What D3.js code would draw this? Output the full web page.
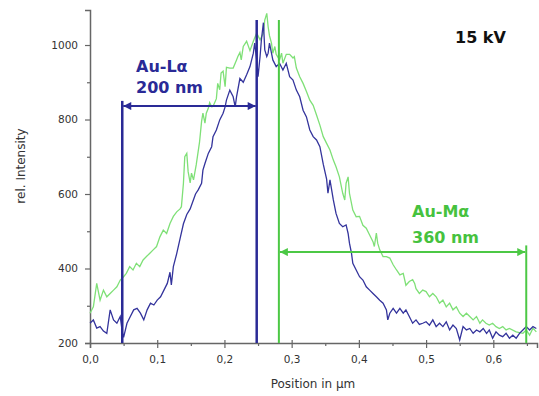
<!DOCTYPE html>
<html>
<head>
<meta charset="utf-8">
<script src="https://cdn.jsdelivr.net/npm/d3@7"></script>
<style>
  body { margin: 0; background: #fff; }
  svg { display: block; }
  .tick text { font-family: "DejaVu Sans", sans-serif; font-size: 10.5px; fill: #333; }
</style>
</head>
<body>
<div id="chart"></div>
<script>
// Au-Lα line scan (blue)
const laPos = [0.000,0.005,0.010,0.015,0.020,0.025,0.030,0.035,0.040,0.045,0.048,0.050,0.055,0.060,0.065,0.070,0.075,0.080,0.085,0.090,0.095,0.100,0.105,0.110,0.115,0.119,0.121,0.124,0.129,0.134,0.139,0.144,0.149,0.153,0.157,0.161,0.166,0.168,0.171,0.176,0.181,0.183,0.188,0.193,0.198,0.201,0.203,0.208,0.213,0.216,0.218,0.223,0.228,0.233,0.238,0.243,0.245,0.248,0.250,0.253,0.255,0.258,0.260,0.263,0.265,0.267,0.270,0.272,0.277,0.282,0.287,0.292,0.297,0.302,0.307,0.312,0.317,0.322,0.327,0.332,0.337,0.342,0.347,0.352,0.354,0.357,0.362,0.366,0.371,0.376,0.381,0.384,0.386,0.389,0.391,0.396,0.401,0.406,0.411,0.416,0.421,0.426,0.431,0.436,0.441,0.443,0.446,0.451,0.456,0.461,0.466,0.470,0.475,0.480,0.485,0.490,0.495,0.500,0.505,0.510,0.515,0.520,0.525,0.530,0.535,0.540,0.545,0.550,0.555,0.560,0.565,0.570,0.575,0.580,0.585,0.590,0.594,0.599,0.604,0.609,0.614,0.619,0.624,0.629,0.634,0.639,0.644,0.649,0.654,0.659,0.664];
const laInt = [253,262,240,244,232,226,289,262,253,271,230,215,253,271,289,293,280,262,289,307,302,315,324,342,360,390,356,405,440,480,520,545,560,580,600,611,629,664,682,709,727,754,772,799,817,834,852,879,861,834,861,910,900,920,942,978,1005,960,915,969,1014,1060,987,969,978,1005,978,960,942,951,933,951,915,906,879,861,825,807,772,754,745,727,680,640,602,638,584,548,521,512,517,494,468,441,414,396,378,369,351,342,333,324,315,307,289,262,280,293,280,293,280,289,271,253,262,250,253,257,248,262,244,253,244,257,235,248,239,208,244,235,239,226,235,230,239,226,235,213,230,221,217,226,213,221,213,226,235,244,235,244,239];

// Au-Mα line scan (green)
const maPos = [0.000,0.005,0.010,0.015,0.020,0.025,0.030,0.035,0.040,0.045,0.050,0.054,0.059,0.064,0.069,0.074,0.079,0.084,0.089,0.094,0.099,0.104,0.109,0.114,0.119,0.124,0.129,0.134,0.136,0.139,0.141,0.144,0.146,0.149,0.151,0.154,0.158,0.163,0.166,0.168,0.171,0.173,0.176,0.178,0.181,0.183,0.188,0.190,0.193,0.195,0.198,0.201,0.203,0.208,0.213,0.218,0.220,0.223,0.225,0.228,0.233,0.238,0.243,0.248,0.253,0.258,0.260,0.263,0.265,0.267,0.270,0.272,0.275,0.277,0.282,0.285,0.287,0.292,0.297,0.302,0.304,0.307,0.312,0.317,0.322,0.327,0.332,0.337,0.342,0.347,0.352,0.357,0.362,0.366,0.371,0.376,0.379,0.381,0.384,0.386,0.391,0.396,0.401,0.406,0.411,0.416,0.421,0.423,0.426,0.428,0.431,0.436,0.441,0.446,0.451,0.456,0.461,0.466,0.470,0.475,0.480,0.483,0.485,0.490,0.495,0.500,0.505,0.510,0.515,0.520,0.525,0.530,0.535,0.540,0.545,0.550,0.555,0.560,0.565,0.570,0.575,0.580,0.584,0.589,0.594,0.599,0.604,0.609,0.614,0.619,0.624,0.634,0.644,0.649,0.654,0.659,0.664];
const maInt = [280,297,360,315,342,324,333,342,351,369,378,387,405,396,414,405,423,432,441,450,459,485,503,494,521,540,552,560,566,629,700,709,660,630,656,638,678,740,795,817,790,817,830,845,834,835,856,897,880,925,930,888,940,938,938,960,969,980,960,996,1010,985,1010,1032,1014,1032,1067,1085,1049,1025,1005,978,996,975,960,978,951,975,975,965,969,938,915,897,875,852,838,812,785,754,736,718,691,673,646,602,584,629,646,602,557,539,540,516,508,490,472,459,495,468,450,432,432,428,410,396,383,387,355,365,370,360,346,333,342,338,324,333,324,307,315,297,307,289,297,280,271,280,271,262,271,253,262,253,248,253,244,239,244,235,239,230,226,235,221,240,230];

// FWHM-style width markers: [left edge, right edge] in µm, arrow level and line tops in counts
const laEdges = [0.048, 0.248];
const laTops = [850, 1067];
const laArrowAt = 836;
const maEdges = [0.281, 0.649];
const maTops = [1067, 462];
const maArrowAt = 444;

const xTicks = [0, 0.1, 0.2, 0.3, 0.4, 0.5, 0.6];
const xMinor = [0.05, 0.15, 0.25, 0.35, 0.45, 0.55, 0.65];
const yTicks = [200, 400, 600, 800, 1000];
const yMinor = [300, 500, 700, 900];

const width = 539, height = 396;
const blue = '#2a2a96';
const green = '#5fd35a';

const svg = d3.select('#chart').append('svg')
  .attr('width', width)
  .attr('height', height);

const x = d3.scaleLinear().domain([0, 0.665]).range([90, 537]);
const y = d3.scaleLinear().domain([200, 1094]).range([343, 10]);

// arrowheads
const defs = svg.append('defs');
[['blueHead', blue], ['greenHead', '#4cc845']].forEach(([id, c]) => {
  defs.append('marker')
    .attr('id', id)
    .attr('viewBox', '0 0 10 10')
    .attr('refX', 10).attr('refY', 5)
    .attr('markerWidth', 5).attr('markerHeight', 4)
    .attr('orient', 'auto-start-reverse')
    .append('path')
    .attr('d', 'M0,0L10,5L0,10z')
    .attr('fill', c);
});

// axes
const fmtX = d => d3.format('.1f')(d).replace('.', ',');

const gx = svg.append('g')
  .attr('transform', `translate(0,${y.range()[0]})`)
  .call(d3.axisBottom(x).tickValues(xTicks).tickFormat(fmtX).tickSizeOuter(0).tickSize(5).tickPadding(8));
gx.selectAll('.tick line').attr('y1', -3);

svg.append('g')
  .attr('transform', `translate(0,${y.range()[0]})`)
  .call(d3.axisBottom(x).tickValues(xMinor).tickFormat('').tickSizeOuter(0).tickSize(3))
  .select('.domain').remove();

const gy = svg.append('g')
  .attr('transform', `translate(${x.range()[0]},0)`)
  .call(d3.axisLeft(y).tickValues(yTicks).tickFormat(d3.format('d')).tickSizeOuter(0).tickSize(5).tickPadding(7));

svg.append('g')
  .attr('transform', `translate(${x.range()[0]},0)`)
  .call(d3.axisLeft(y).tickValues(yMinor).tickFormat('').tickSizeOuter(0).tickSize(3))
  .select('.domain').remove();

svg.selectAll('.domain').attr('stroke', '#666').attr('stroke-width', 1.5);
svg.selectAll('.tick line').attr('stroke', '#666').attr('stroke-width', 1.2);

// data lines
const line = d3.line().x(d => x(d[0])).y(d => y(d[1]));

svg.append('path')
  .datum(d3.zip(maPos, maInt))
  .attr('fill', 'none')
  .attr('stroke', '#7fe077')
  .attr('stroke-width', 1.3)
  .attr('d', line);

svg.append('path')
  .datum(d3.zip(laPos, laInt))
  .attr('fill', 'none')
  .attr('stroke', '#34349c')
  .attr('stroke-width', 1.3)
  .attr('d', line);

// width markers
function marker(edges, tops, level, color, head, w) {
  edges.forEach((e, i) => {
    svg.append('line')
      .attr('x1', x(e)).attr('x2', x(e))
      .attr('y1', y(200)).attr('y2', y(tops[i]))
      .attr('stroke', color).attr('stroke-width', w);
  });
  svg.append('line')
    .attr('x1', x(edges[0]) + 1).attr('x2', x(edges[1]) - 1)
    .attr('y1', y(level)).attr('y2', y(level))
    .attr('stroke', color).attr('stroke-width', 2)
    .attr('marker-start', `url(#${head})`)
    .attr('marker-end', `url(#${head})`);
}
marker(laEdges, laTops, laArrowAt, blue, 'blueHead', 2.5);
marker(maEdges, maTops, maArrowAt, '#4cc845', 'greenHead', 2);

// annotations
const note = (tx, ty, s, c) => svg.append('text')
  .attr('x', tx).attr('y', ty)
  .attr('font-family', '"DejaVu Sans", sans-serif')
  .attr('font-weight', 'bold')
  .attr('font-size', 16)
  .attr('fill', c)
  .text(s);

note(136, 72, 'Au-Lα', blue);
note(136, 93, '200 nm', blue);
note(455, 43, '15 kV', '#111');
note(412, 217, 'Au-Mα', '#46c23e');
note(412, 243, '360 nm', '#46c23e');

// axis titles
svg.append('text')
  .attr('transform', `translate(25,166) rotate(-90)`)
  .attr('text-anchor', 'middle')
  .attr('font-family', '"DejaVu Sans", sans-serif')
  .attr('font-size', 12)
  .attr('fill', '#333')
  .text('rel. Intensity');

svg.append('text')
  .attr('x', 313).attr('y', 388)
  .attr('text-anchor', 'middle')
  .attr('font-family', '"DejaVu Sans", sans-serif')
  .attr('font-size', 12)
  .attr('fill', '#333')
  .text('Position in µm');
</script>
</body>
</html>
